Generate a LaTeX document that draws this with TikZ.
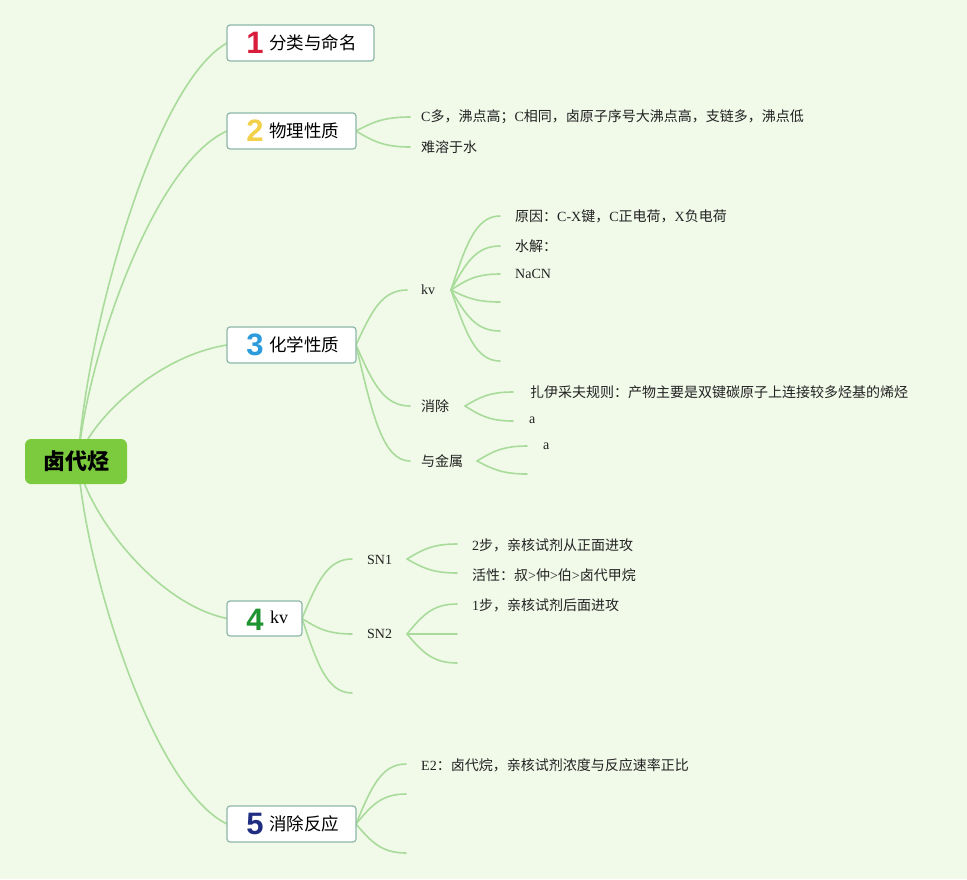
\documentclass[tikz,border=0pt]{standalone}
\usepackage{fontspec}
\setmainfont{Liberation Serif}
\newfontfamily\cjk{Noto Sans CJK SC}
\newfontfamily\numfont{Liberation Sans}
\newcommand\zh[1]{{\cjk #1}}
\usetikzlibrary{calc}
\definecolor{bgc}{HTML}{F1F9E9}
\definecolor{lineg}{HTML}{A9DC9B}
\definecolor{rootg}{HTML}{7CCB3E}
\definecolor{boxb}{HTML}{8DB8A8}
\definecolor{nred}{HTML}{D81E3A}
\definecolor{nyel}{HTML}{F2D04A}
\definecolor{nblu}{HTML}{2B9BDB}
\definecolor{ngrn}{HTML}{1E9430}
\definecolor{nnav}{HTML}{1F2D80}
\definecolor{txt}{HTML}{222222}
\tikzset{
  conn/.style={draw=lineg, line width=1.6pt, line cap=round},
  rootbox/.style={fill=rootg, rounded corners=6pt, minimum width=102pt, minimum height=45pt, inner sep=0pt, font=\cjk\bfseries\fontsize{22}{24}\selectfont, text=black},
  topicbox/.style={draw=boxb, fill=white, line width=1.2pt, rounded corners=3pt, minimum height=36pt, inner sep=0pt},
  num/.style={font=\numfont\bfseries\fontsize{31}{32}\selectfont, inner sep=0pt},
  ttl/.style={anchor=west, inner sep=0pt, font=\cjk\fontsize{17.5}{19}\selectfont, text=black},
  leaf/.style={anchor=west, inner sep=0pt, font=\fontsize{14}{16}\selectfont, text=txt},
}
\newcommand\br[2]{\draw[conn] let \p1=(#1), \p2=(#2) in (\p1) .. controls ({\x1+0.3*(\x2-\x1)},{\y1+0.6*(\y2-\y1)}) and ({\x1+0.5*(\x2-\x1)},\y2) .. (\p2);}
\newcommand\rt[2]{\draw[conn] let \p1=(#1), \p2=(#2) in (\p1) .. controls ({\x1+0.05*(\x2-\x1)},{\y1+0.3*(\y2-\y1)}) and ({\x1+0.5*(\x2-\x1)},{\y1+0.9*(\y2-\y1)}) .. (\p2);}
\begin{document}
\begin{tikzpicture}[x=1pt,y={(0,-1pt)}]
\fill[bgc] (0,0) rectangle (967,879);
\useasboundingbox (0,0) rectangle (967,879);

% anchor coordinates
\coordinate (rc) at (78,461.5);
\coordinate (e1) at (227,43);
\coordinate (e2) at (227,131);
\coordinate (e3) at (227,345);
\coordinate (e4) at (227,618.5);
\coordinate (e5) at (227,824);

\rt{rc}{e1}\rt{rc}{e2}\rt{rc}{e3}\rt{rc}{e4}\rt{rc}{e5}

% branch coordinates
\coordinate (s2) at (356,131);
\coordinate (c21) at (410,117);
\coordinate (c22) at (410,147);
\coordinate (s3) at (356,345);
\coordinate (c31) at (407,290);
\coordinate (c32) at (410,406);
\coordinate (c33) at (410,461);
\coordinate (skv) at (451,290);
\foreach \i/\y in {1/216,2/246,3/274,4/302,5/331,6/361}{\coordinate (k\i) at (500,\y);}
\coordinate (sxc) at (465,406);
\coordinate (x1) at (513,392);
\coordinate (x2) at (513,421);
\coordinate (sjs) at (477,461);
\coordinate (j1) at (527,446);
\coordinate (j2) at (527,474);
\coordinate (s4) at (302,618.5);
\coordinate (c41) at (352,559);
\coordinate (c42) at (352,634);
\coordinate (c43) at (352,693);
\coordinate (ss1) at (407,559);
\coordinate (p1) at (457,544);
\coordinate (p2) at (457,573);
\coordinate (ss2) at (407,634);
\coordinate (q1) at (457,604);
\coordinate (q2) at (457,634);
\coordinate (q3) at (457,663);
\coordinate (s5) at (356,824);
\coordinate (c51) at (406,764);
\coordinate (c52) at (406,794);
\coordinate (c53) at (406,853);

\br{s2}{c21}\br{s2}{c22}
\br{s3}{c31}\br{s3}{c32}\br{s3}{c33}
\foreach \i in {1,...,6}{\br{skv}{k\i}}
\br{sxc}{x1}\br{sxc}{x2}
\br{sjs}{j1}\br{sjs}{j2}
\br{s4}{c41}\br{s4}{c42}\br{s4}{c43}
\br{ss1}{p1}\br{ss1}{p2}
\br{ss2}{q1}\br{ss2}{q2}\br{ss2}{q3}
\br{s5}{c51}\br{s5}{c52}\br{s5}{c53}

% root
\node[rootbox] (root) at (76,461.5) {卤代烃};

% topic boxes
\node[topicbox, minimum width=147pt] (b1) at (300.5,43) {};
\node[topicbox, minimum width=129pt] (b2) at (291.5,131) {};
\node[topicbox, minimum width=129pt] (b3) at (291.5,345) {};
\node[topicbox, minimum width=75pt, minimum height=35pt] (b4) at (264.5,618.5) {};
\node[topicbox, minimum width=129pt] (b5) at (291.5,824) {};

\node[num, text=nred] (n1) at (255,43) {1};
\node[num, text=nyel] (n2) at (255,131) {2};
\node[num, text=nblu] (n3) at (255,345) {3};
\node[num, text=ngrn] (n4) at (255,620) {4};
\node[num, text=nnav] (n5) at (255,824) {5};

\node[ttl] (t1) at (269,43) {分类与命名};
\node[ttl] (t2) at (269,131) {物理性质};
\node[ttl] (t3) at (269,345) {化学性质};
\node[ttl, font=\fontsize{18}{20}\selectfont] (t4) at (270,617) {kv};
\node[ttl] (t5) at (269,824) {消除反应};

% leaves
\node[leaf] (l21) at (421,117) {C\zh{多，沸点高；}C\zh{相同，卤原子序号大沸点高，支链多，沸点低}};
\node[leaf] (l22) at (421,147) {\zh{难溶于水}};
\node[leaf] (l31) at (421,290) {kv};
\node[leaf] (l32) at (421,406) {\zh{消除}};
\node[leaf] (l33) at (421,461) {\zh{与金属}};
\node[leaf] (lk1) at (515,216) {\zh{原因：}C-X\zh{键，}C\zh{正电荷，}X\zh{负电荷}};
\node[leaf] (lk2) at (515,246) {\zh{水解：}};
\node[leaf] (lk3) at (515,274) {NaCN};
\node[leaf] (lx1) at (530,392) {\zh{扎伊采夫规则：产物主要是双键碳原子上连接较多烃基的烯烃}};
\node[leaf] (lx2) at (529,420) {a};
\node[leaf] (lj1) at (543,446) {a};
\node[leaf] (l41) at (367,560) {SN1};
\node[leaf] (l42) at (367,634) {SN2};
\node[leaf] (lp1) at (472,545) {2\zh{步，亲核试剂从正面进攻}};
\node[leaf] (lp2) at (472,575) {\zh{活性：叔}>\zh{仲}>\zh{伯}>\zh{卤代甲烷}};
\node[leaf] (lq1) at (472,605) {1\zh{步，亲核试剂后面进攻}};
\node[leaf] (l51) at (421,765) {E2\zh{：卤代烷，亲核试剂浓度与反应速率正比}};
\end{tikzpicture}
\end{document}
